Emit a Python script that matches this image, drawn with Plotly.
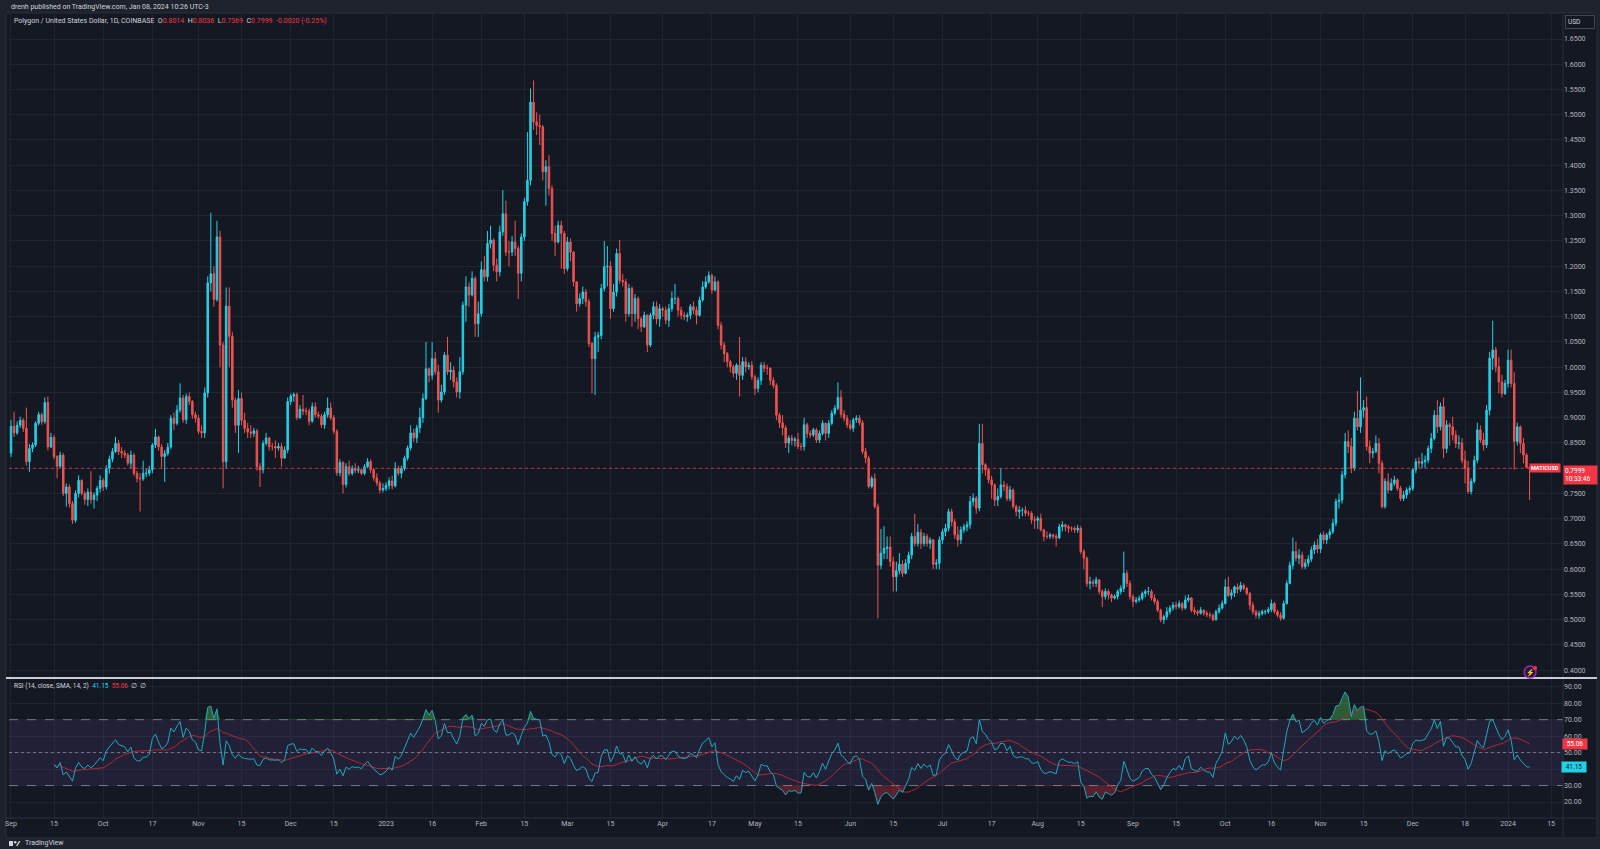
import numpy as np
import pandas as pd
import plotly.graph_objects as go

# ---------------- data (daily MATIC/USD) ----------------
FIRST_DATE = "2022-09-01"
first_open = 0.830

close_2022_09 = [.883,.870,.885,.895,.879,.813,.839,.846,.889,.906,.892,.930,.842,.861,.823,.804,.826,.750,.763,.730,.697,.750,.776,.750,.738,.753,.738,.747,.760,.776]
high_2022_09 = [.896,.912,.893,.902,.899,.920,.848,.851,.893,.912,.910,.940,.942,.870,.866,.826,.833,.830,.770,.768,.735,.756,.786,.778,.755,.760,.794,.752,.765,.786]
low_2022_09 = [.822,.862,.866,.880,.872,.805,.793,.832,.842,.885,.886,.888,.835,.840,.818,.780,.800,.745,.724,.722,.690,.692,.742,.746,.728,.725,.730,.720,.735,.752]

close_2022_10 = [.763,.800,.818,.833,.849,.833,.830,.826,.810,.826,.790,.780,.779,.790,.790,.797,.846,.862,.842,.823,.829,.842,.899,.889,.915,.939,.896,.942,.932,.906,.899]
high_2022_10 = [.780,.806,.825,.840,.862,.856,.842,.836,.830,.835,.830,.795,.790,.815,.800,.805,.850,.878,.865,.848,.836,.850,.905,.910,.925,.968,.945,.948,.950,.935,.912]
low_2022_10 = [.755,.758,.790,.812,.830,.826,.820,.820,.805,.800,.785,.772,.714,.775,.782,.785,.790,.840,.835,.800,.773,.825,.838,.876,.885,.910,.890,.888,.925,.898,.890]

close_2022_11 = [.873,.870,.949,1.167,1.185,1.134,1.258,1.044,.813,1.121,1.061,.935,.885,.938,.895,.879,.872,.869,.874,.803,.797,.849,.860,.843,.843,.840,.843,.820,.836,.932]
high_2022_11 = [.905,.885,.960,1.180,1.306,1.200,1.290,1.270,1.050,1.158,1.158,1.070,.940,.955,.950,.910,.890,.885,.880,.878,.810,.855,.870,.862,.850,.855,.850,.850,.843,.940]
low_2022_11 = [.868,.860,.860,.940,1.150,1.120,1.130,1.000,.760,.800,1.000,.920,.870,.830,.885,.870,.860,.860,.862,.795,.763,.790,.845,.835,.835,.820,.835,.803,.820,.830]

close_2022_12 = [.943,.946,.900,.917,.913,.913,.893,.922,.906,.903,.886,.906,.919,.900,.873,.791,.811,.768,.803,.790,.800,.796,.797,.790,.803,.813,.797,.781,.771,.757,.760]
high_2022_12 = [.948,.950,.950,.925,.945,.920,.918,.930,.930,.912,.908,.912,.940,.930,.905,.877,.818,.814,.810,.815,.806,.810,.805,.800,.808,.820,.818,.800,.790,.775,.770]
low_2022_12 = [.925,.932,.895,.898,.905,.905,.885,.890,.900,.898,.880,.878,.900,.895,.868,.785,.784,.750,.762,.785,.786,.790,.790,.786,.786,.800,.790,.775,.765,.750,.752]

close_2023_01 = [.766,.775,.765,.800,.790,.800,.820,.840,.870,.860,.880,.900,.938,.997,.984,1.017,.991,.935,.951,1.024,.991,.994,.971,.951,.991,1.123,1.159,1.143,1.176,1.086,1.106]
high_2023_01 = [.772,.782,.785,.812,.805,.805,.825,.845,.885,.878,.886,.920,.948,1.050,1.000,1.050,1.030,1.005,.965,1.030,1.060,1.010,1.002,.980,1.020,1.130,1.180,1.168,1.190,1.180,1.130]
low_2023_01 = [.755,.758,.758,.762,.785,.780,.795,.815,.835,.852,.850,.870,.890,.935,.970,.975,.985,.910,.930,.945,.985,.975,.960,.940,.938,.985,1.090,1.120,1.140,1.060,1.060]

close_2023_02 = [1.193,1.179,1.245,1.252,1.202,1.189,1.268,1.304,1.228,1.228,1.248,1.235,1.186,1.258,1.328,1.370,1.525,1.486,1.479,1.476,1.387,1.397,1.354,1.265,1.248,1.281,1.265,1.195]
high_2023_02 = [1.210,1.220,1.270,1.280,1.255,1.215,1.280,1.351,1.330,1.250,1.260,1.290,1.240,1.265,1.335,1.466,1.552,1.568,1.505,1.500,1.480,1.410,1.420,1.360,1.280,1.290,1.290,1.270]
low_2023_02 = [1.100,1.170,1.170,1.235,1.190,1.170,1.180,1.260,1.220,1.200,1.220,1.220,1.135,1.170,1.250,1.320,1.360,1.470,1.460,1.440,1.370,1.320,1.340,1.250,1.220,1.245,1.195,1.185]

close_2023_03 = [1.248,1.228,1.169,1.126,1.136,1.149,1.130,1.047,1.017,1.060,1.063,1.156,1.199,1.200,1.116,1.149,1.225,1.172,1.169,1.106,1.156,1.106,1.136,1.096,1.080,1.103,1.044,1.103,1.120,1.096,1.116]
high_2023_03 = [1.258,1.255,1.230,1.170,1.146,1.160,1.155,1.135,1.050,1.070,1.070,1.165,1.250,1.240,1.210,1.165,1.235,1.252,1.185,1.175,1.165,1.160,1.145,1.140,1.100,1.110,1.105,1.108,1.130,1.130,1.125]
low_2023_03 = [1.190,1.210,1.160,1.110,1.120,1.125,1.120,1.040,.948,.945,1.030,1.055,1.150,1.160,1.096,1.110,1.140,1.165,1.160,1.090,1.100,1.080,1.090,1.075,1.070,1.078,1.030,1.040,1.095,1.085,1.080]

close_2023_04 = [1.113,1.093,1.116,1.136,1.136,1.113,1.103,1.100,1.103,1.120,1.113,1.103,1.133,1.159,1.169,1.182,1.153,1.169,1.083,1.044,1.027,1.011,1.001,.988,1.004,.984,1.011,1.001,1.004,.981]
high_2023_04 = [1.120,1.120,1.125,1.150,1.165,1.140,1.120,1.110,1.108,1.125,1.130,1.120,1.140,1.170,1.180,1.190,1.185,1.180,1.172,1.090,1.050,1.030,1.015,1.005,1.008,1.060,1.020,1.020,1.010,1.012]
low_2023_04 = [1.100,1.085,1.080,1.110,1.125,1.100,1.095,1.093,1.090,1.095,1.105,1.085,1.100,1.130,1.155,1.165,1.145,1.150,1.075,1.035,1.010,1.000,.990,.980,.975,.942,.975,.990,.995,.975]

close_2023_05 = [.958,.974,1.004,.998,.998,.974,.964,.905,.890,.880,.850,.860,.855,.857,.843,.843,.886,.869,.866,.876,.856,.869,.889,.869,.889,.909,.919,.940,.907,.899,.886]
high_2023_05 = [.985,.980,1.010,1.010,1.005,1.000,.980,.968,.910,.905,.885,.865,.866,.862,.870,.850,.900,.890,.875,.880,.880,.875,.895,.890,.895,.915,.925,.970,.955,.915,.905]
low_2023_05 = [.945,.950,.965,.990,.985,.965,.958,.895,.880,.865,.840,.830,.845,.843,.838,.835,.835,.860,.860,.862,.850,.850,.865,.855,.860,.885,.905,.915,.900,.893,.880]

close_2023_06 = [.879,.896,.899,.890,.833,.820,.764,.780,.724,.608,.632,.641,.644,.615,.585,.597,.610,.592,.612,.628,.665,.651,.673,.651,.665,.651,.658,.610,.612,.658]
high_2023_06 = [.895,.900,.905,.905,.895,.840,.825,.785,.790,.730,.680,.685,.665,.665,.625,.615,.632,.618,.620,.635,.672,.710,.690,.680,.672,.670,.663,.660,.620,.665]
low_2023_06 = [.875,.872,.890,.885,.828,.810,.760,.760,.720,.503,.600,.620,.620,.605,.556,.556,.590,.585,.590,.600,.620,.645,.645,.640,.645,.645,.640,.600,.600,.600]

close_2023_07 = [.674,.681,.714,.694,.668,.658,.678,.684,.688,.734,.741,.721,.849,.807,.797,.777,.767,.737,.744,.767,.764,.740,.757,.724,.714,.717,.717,.711,.711,.698,.697]
high_2023_07 = [.680,.690,.720,.720,.700,.685,.685,.690,.695,.745,.750,.745,.888,.888,.810,.800,.785,.770,.760,.800,.775,.770,.765,.760,.728,.725,.722,.725,.716,.715,.705]
low_2023_07 = [.650,.665,.675,.685,.660,.645,.650,.672,.675,.680,.725,.710,.715,.790,.785,.770,.740,.725,.725,.740,.755,.735,.735,.720,.705,.700,.705,.705,.705,.690,.680]

close_2023_08 = [.701,.678,.665,.665,.668,.665,.662,.684,.688,.684,.681,.681,.678,.681,.635,.622,.572,.575,.572,.579,.556,.546,.556,.549,.543,.546,.556,.562,.592,.572,.546]
high_2023_08 = [.705,.710,.680,.675,.672,.670,.670,.690,.695,.690,.688,.685,.685,.688,.685,.640,.625,.585,.580,.585,.580,.560,.562,.560,.552,.550,.560,.568,.635,.598,.578]
low_2023_08 = [.680,.675,.655,.660,.660,.660,.645,.660,.675,.675,.672,.675,.672,.672,.630,.600,.565,.560,.565,.565,.550,.525,.540,.540,.535,.540,.540,.550,.555,.565,.540]

close_2023_09 = [.536,.539,.542,.552,.556,.556,.543,.536,.519,.500,.506,.516,.523,.529,.526,.532,.523,.539,.543,.519,.516,.513,.519,.513,.510,.509,.500,.516,.523,.532]
high_2023_09 = [.550,.545,.548,.556,.560,.565,.560,.550,.540,.522,.510,.525,.528,.535,.535,.538,.535,.548,.550,.545,.525,.520,.525,.520,.518,.515,.512,.520,.530,.538]
low_2023_09 = [.525,.532,.535,.538,.545,.548,.538,.530,.515,.495,.492,.500,.510,.518,.520,.522,.518,.520,.535,.515,.510,.508,.510,.508,.505,.503,.497,.498,.512,.520]

close_2023_10 = [.565,.548,.553,.565,.560,.568,.562,.552,.529,.516,.509,.512,.516,.516,.520,.532,.516,.509,.503,.532,.572,.608,.635,.622,.628,.605,.612,.620,.638,.648,.640]
high_2023_10 = [.580,.585,.560,.568,.572,.575,.572,.565,.555,.535,.520,.518,.520,.520,.525,.540,.535,.520,.515,.538,.578,.615,.663,.655,.640,.635,.620,.628,.645,.655,.660]
low_2023_10 = [.530,.545,.540,.545,.552,.555,.558,.548,.520,.510,.503,.502,.508,.510,.512,.515,.512,.505,.498,.500,.530,.570,.600,.615,.610,.600,.600,.605,.615,.630,.632]

close_2023_11 = [.668,.658,.668,.674,.691,.734,.737,.787,.853,.843,.800,.899,.882,.915,.920,.843,.830,.833,.849,.810,.724,.774,.757,.770,.777,.760,.740,.747,.757,.760]
high_2023_11 = [.672,.675,.672,.680,.700,.740,.750,.795,.870,.875,.860,.912,.953,.980,.935,.942,.855,.840,.865,.860,.815,.780,.790,.780,.785,.780,.765,.755,.762,.765]
low_2023_11 = [.632,.650,.650,.660,.670,.685,.720,.730,.780,.830,.790,.795,.875,.870,.900,.835,.810,.820,.830,.790,.720,.720,.750,.755,.765,.755,.735,.735,.740,.750]

close_2023_12 = [.797,.813,.810,.813,.816,.839,.859,.905,.882,.922,.839,.886,.882,.866,.849,.850,.816,.800,.754,.774,.816,.876,.856,.846,.915,1.018,1.034,1.001,.971,.948,.968]
high_2023_12 = [.800,.820,.822,.830,.825,.845,.870,.915,.935,.930,.940,.895,.890,.902,.875,.865,.860,.835,.815,.780,.825,.890,.885,.870,.925,1.030,1.092,1.040,1.020,.985,.975]
low_2023_12 = [.755,.790,.800,.800,.800,.810,.830,.855,.870,.875,.820,.830,.845,.855,.840,.838,.810,.770,.750,.748,.770,.810,.850,.835,.840,.905,.995,.990,.948,.940,.945]

close_2024_01 = [1.014,.968,.853,.882,.849,.826,.8014,.7999]
high_2024_01 = [1.035,1.035,.990,.890,.885,.860,.830,.8036]
low_2024_01 = [.960,.960,.797,.845,.830,.810,.800,.7369]

closes = (close_2022_09 + close_2022_10 + close_2022_11 + close_2022_12 + close_2023_01 + close_2023_02
          + close_2023_03 + close_2023_04 + close_2023_05 + close_2023_06 + close_2023_07 + close_2023_08
          + close_2023_09 + close_2023_10 + close_2023_11 + close_2023_12 + close_2024_01)
highs = (high_2022_09 + high_2022_10 + high_2022_11 + high_2022_12 + high_2023_01 + high_2023_02
         + high_2023_03 + high_2023_04 + high_2023_05 + high_2023_06 + high_2023_07 + high_2023_08
         + high_2023_09 + high_2023_10 + high_2023_11 + high_2023_12 + high_2024_01)
lows = (low_2022_09 + low_2022_10 + low_2022_11 + low_2022_12 + low_2023_01 + low_2023_02
        + low_2023_03 + low_2023_04 + low_2023_05 + low_2023_06 + low_2023_07 + low_2023_08
        + low_2023_09 + low_2023_10 + low_2023_11 + low_2023_12 + low_2024_01)

tick_dates = ["2022-09-01","2022-09-15","2022-10-01","2022-10-17","2022-11-01","2022-11-15","2022-12-01","2022-12-15",
              "2023-01-01","2023-01-16","2023-02-01","2023-02-15","2023-03-01","2023-03-15","2023-04-01","2023-04-17",
              "2023-05-01","2023-05-15","2023-06-01","2023-06-15","2023-07-01","2023-07-17","2023-08-01","2023-08-15",
              "2023-09-01","2023-09-15","2023-10-01","2023-10-16","2023-11-01","2023-11-15","2023-12-01","2023-12-18",
              "2024-01-01","2024-01-15"]
tick_text = ["Sep","15","Oct","17","Nov","15","Dec","15","2023","16","Feb","15","Mar","15","Apr","17",
             "May","15","Jun","15","Jul","17","Aug","15","Sep","15","Oct","16","Nov","15","Dec","18","2024","15"]

last_price = 0.7999
rsi_label, rsi_ma_label = 41.15, 55.06

# ---------------- derived series ----------------
n = len(closes)
dates = pd.date_range(FIRST_DATE, periods=n, freq="D")
opens = [first_open] + closes[:-1]
highs = [max(h, o, c) for h, o, c in zip(highs, opens, closes)]
lows = [min(l, o, c) for l, o, c in zip(lows, opens, closes)]

# RSI(14) with Wilder smoothing, SMA(14) of RSI
c = np.array(closes)
d = np.diff(c)
g = np.clip(d, 0, None)
lo = np.clip(-d, 0, None)
rsi = np.full(n, np.nan)
ag = g[:14].mean()
al = lo[:14].mean()
rsi[14] = 100 - 100 / (1 + ag / al)
for i in range(15, n):
    ag = (ag * 13 + g[i - 1]) / 14
    al = (al * 13 + lo[i - 1]) / 14
    rsi[i] = 100 - 100 / (1 + ag / al)
rsi_s = pd.Series(rsi)
rsi_ma = rsi_s.rolling(14, min_periods=1).mean().values
rsi_ma[:14] = np.nan
ob = np.where(np.isnan(rsi), np.nan, np.maximum(rsi, 70))
os_ = np.where(np.isnan(rsi), np.nan, np.minimum(rsi, 30))

# ---------------- geometry ----------------
W, H = 1600, 849
ML, MR, MT, MB = 5, 37, 14, 31
PW, PH = W - ML - MR, H - MT - MB


def px(x):
    return (x - ML) / PW


def py(y):
    return (H - MB - y) / PH


base = pd.Timestamp("2023-01-01")
x_left = base + pd.Timedelta(days=(ML - 383) / 3.082)
x_right = base + pd.Timedelta(days=(W - MR - 383) / 3.082)

BG = "#141823"
FRAME = "#1e222d"
GRID = "#20242f"
TXT = "#b2b5be"
UP = "#22d1e6"
DOWN = "#ef5350"
FONT = "Roboto"

fig = go.Figure()

fig.add_trace(go.Candlestick(
    x=dates, open=opens, high=highs, low=lows, close=closes,
    increasing=dict(line=dict(color=UP, width=1), fillcolor=UP),
    decreasing=dict(line=dict(color=DOWN, width=1), fillcolor=DOWN),
    whiskerwidth=0, xaxis="x", yaxis="y", showlegend=False, hoverinfo="skip"))

xr = [x_left, x_right]
# RSI band 30-70
fig.add_trace(go.Scatter(x=xr, y=[30, 30], mode="lines", line=dict(width=0), xaxis="x2", yaxis="y2",
                         showlegend=False, hoverinfo="skip"))
fig.add_trace(go.Scatter(x=xr, y=[70, 70], mode="lines", line=dict(width=0), fill="tonexty",
                         fillcolor="rgba(126,87,194,0.12)", xaxis="x2", yaxis="y2", showlegend=False,
                         hoverinfo="skip"))
for lvl, dash in [(70, "dash"), (50, "dot"), (30, "dash")]:
    fig.add_trace(go.Scatter(x=xr, y=[lvl, lvl], mode="lines", line=dict(color="#787b86", width=1, dash=dash),
                             xaxis="x2", yaxis="y2", showlegend=False, hoverinfo="skip"))
# overbought / oversold fills
fig.add_trace(go.Scatter(x=dates, y=np.where(np.isnan(rsi), np.nan, 70.0), mode="lines", line=dict(width=0),
                         xaxis="x2", yaxis="y2", showlegend=False, hoverinfo="skip"))
fig.add_trace(go.Scatter(x=dates, y=ob, mode="lines", line=dict(width=0), fill="tonexty",
                         fillcolor="rgba(76,175,80,0.45)", xaxis="x2", yaxis="y2", showlegend=False,
                         hoverinfo="skip"))
fig.add_trace(go.Scatter(x=dates, y=np.where(np.isnan(rsi), np.nan, 30.0), mode="lines", line=dict(width=0),
                         xaxis="x2", yaxis="y2", showlegend=False, hoverinfo="skip"))
fig.add_trace(go.Scatter(x=dates, y=os_, mode="lines", line=dict(width=0), fill="tonexty",
                         fillcolor="rgba(242,54,69,0.3)", xaxis="x2", yaxis="y2", showlegend=False,
                         hoverinfo="skip"))
fig.add_trace(go.Scatter(x=dates, y=rsi_ma, mode="lines", line=dict(color="#b0283a", width=1),
                         xaxis="x2", yaxis="y2", showlegend=False, hoverinfo="skip"))
fig.add_trace(go.Scatter(x=dates, y=rsi, mode="lines", line=dict(color="#1fa9bb", width=1),
                         xaxis="x2", yaxis="y2", showlegend=False, hoverinfo="skip"))

axis_common = dict(showline=False, zeroline=False, ticks="", gridcolor=GRID, gridwidth=1,
                   tickfont=dict(family=FONT, size=7, color=TXT))

fig.update_layout(
    width=W, height=H,
    margin=dict(l=ML, r=MR, t=MT, b=MB, pad=0),
    paper_bgcolor=FRAME, plot_bgcolor=BG,
    showlegend=False, hovermode=False,
    xaxis=dict(domain=[0, 1], anchor="y", range=xr, type="date", tickvals=tick_dates, ticktext=tick_text,
               showticklabels=False, rangeslider=dict(visible=False), **axis_common),
    xaxis2=dict(domain=[0, 1], anchor="y2", range=xr, type="date", matches="x", tickvals=tick_dates,
                ticktext=tick_text, showticklabels=True, **axis_common),
    yaxis=dict(domain=[py(677), 1], anchor="x", side="right", range=[0.3866, 1.6995], dtick=0.05, tick0=0,
               tickformat=".4f", **axis_common),
    yaxis2=dict(domain=[0, py(679)], anchor="x2", side="right", range=[10.3, 94.7],
                tickvals=[20, 30, 40, 50, 60, 70, 80, 90], tickformat=".2f", **axis_common),
)

shapes = []
# chart frame
shapes.append(dict(type="rect", xref="paper", yref="paper", x0=px(2), x1=px(1597), y0=py(838), y1=py(13),
                   line=dict(color="#2a2e39", width=1), fillcolor=BG, layer="below"))
# price axis separator, time axis separator
shapes.append(dict(type="line", xref="paper", yref="paper", x0=1, x1=1, y0=py(838), y1=py(13),
                   line=dict(color="#2a2e39", width=1)))
shapes.append(dict(type="line", xref="paper", yref="paper", x0=px(2), x1=px(1597), y0=0, y1=0,
                   line=dict(color="#2a2e39", width=1)))
# pane separator
shapes.append(dict(type="line", xref="paper", yref="paper", x0=px(2), x1=px(1597), y0=py(678), y1=py(678),
                   line=dict(color="#c9cbd3", width=2)))
# last price line
shapes.append(dict(type="line", xref="paper", yref="y", x0=0, x1=1, y0=last_price, y1=last_price,
                   line=dict(color="rgba(242,54,69,0.75)", width=1, dash="dot")))
# lightning icon ring
shapes.append(dict(type="circle", xref="paper", yref="paper", x0=px(1524), x1=px(1536), y0=py(678), y1=py(666),
                   line=dict(color="#9c27b0", width=1.5), fillcolor="rgba(156,39,176,0.15)"))
shapes.append(dict(type="circle", xref="paper", yref="paper", x0=px(1533), x1=px(1537), y0=py(670), y1=py(666),
                   line=dict(width=0), fillcolor="#f23645"))
# TradingView logo mark
shapes.append(dict(type="rect", xref="paper", yref="paper", x0=px(5), x1=px(9), y0=py(846), y1=py(841),
                   line=dict(width=0), fillcolor="#d1d4dc"))
shapes.append(dict(type="circle", xref="paper", yref="paper", x0=px(10), x1=px(12.5), y0=py(843.5), y1=py(841),
                   line=dict(width=0), fillcolor="#d1d4dc"))
shapes.append(dict(type="path", xref="paper", yref="paper",
                   path=f"M {px(12)} {py(846)} L {px(15)} {py(841)} L {px(16.5)} {py(841)} L {px(13.5)} {py(846)} Z",
                   line=dict(width=0), fillcolor="#d1d4dc"))
fig.update_layout(shapes=shapes)

red = "#f23645"
grey = "#d1d4dc"
ann = []
ann.append(dict(xref="paper", yref="paper", x=px(5), y=py(6.5), xanchor="left", yanchor="middle", showarrow=False,
                text="drenh published on TradingView.com, Jan 08, 2024 10:26 UTC-3",
                font=dict(family=FONT, size=7, color=grey)))
ann.append(dict(xref="paper", yref="paper", x=px(8), y=py(20.5), xanchor="left", yanchor="middle", showarrow=False,
                text=(f"Polygon / United States Dollar, 1D, COINBASE  O<span style='color:{red}'>0.8014</span>"
                      f"  H<span style='color:{red}'>0.8036</span>  L<span style='color:{red}'>0.7369</span>"
                      f"  C<span style='color:{red}'>0.7999</span>  <span style='color:{red}'>-0.0020 (-0.25%)</span>"),
                font=dict(family=FONT, size=7, color=grey)))
ann.append(dict(xref="paper", yref="paper", x=px(8), y=py(686), xanchor="left", yanchor="middle", showarrow=False,
                text=(f"RSI (14, close, SMA, 14, 2)  <span style='color:{UP}'>{rsi_label:.2f}</span>"
                      f"  <span style='color:{red}'>{rsi_ma_label:.2f}</span>  ∅  ∅"),
                font=dict(family=FONT, size=6.5, color=grey)))
ann.append(dict(xref="paper", yref="paper", x=px(19), y=py(843.5), xanchor="left", yanchor="middle",
                showarrow=False, text="TradingView", font=dict(family=FONT, size=7, color=grey)))
# USD box
ann.append(dict(xref="paper", yref="paper", x=px(1565), y=py(22.5), xanchor="left", yanchor="middle",
                showarrow=False, text="USD", width=24, align="left", bgcolor=BG, bordercolor="#434651",
                borderwidth=1, borderpad=2, font=dict(family=FONT, size=6.5, color=grey)))
# last price labels
ann.append(dict(xref="paper", yref="y", x=1.0, y=last_price, xanchor="left", yanchor="top", yshift=3,
                showarrow=False, text="0.7999<br>10:33:46", align="left", bgcolor=red, borderpad=1, width=31,
                font=dict(family=FONT, size=6.5, color="#ffffff")))
ann.append(dict(xref="paper", yref="y", x=px(1561), y=last_price, xanchor="right", yanchor="middle",
                showarrow=False, text="<b>MATICUSD</b>", bgcolor=red, borderpad=1,
                font=dict(family=FONT, size=5.5, color="#ffffff")))
# RSI value labels
ann.append(dict(xref="paper", yref="y2", x=px(1562), y=rsi_ma_label, xanchor="left", yanchor="middle",
                showarrow=False, text=f"{rsi_ma_label:.2f}", bgcolor=red, borderpad=1, width=22,
                font=dict(family=FONT, size=6.5, color="#ffffff")))
ann.append(dict(xref="paper", yref="y2", x=px(1561), y=rsi_label, xanchor="left", yanchor="middle",
                showarrow=False, text=f"{rsi_label:.2f}", bgcolor=UP, borderpad=1, width=22,
                font=dict(family=FONT, size=6.5, color="#131722")))
# lightning glyph
ann.append(dict(xref="paper", yref="paper", x=px(1530), y=py(672), xanchor="center", yanchor="middle",
                showarrow=False, text="⚡", font=dict(size=7, color="#ce93d8")))
fig.update_layout(annotations=ann)

fig.write_html("out.html",
               config={"displayModeBar": False},
               post_script="document.body.style.margin='0';document.body.style.overflow='hidden';"
                           "document.body.style.background='#1e222d';")
